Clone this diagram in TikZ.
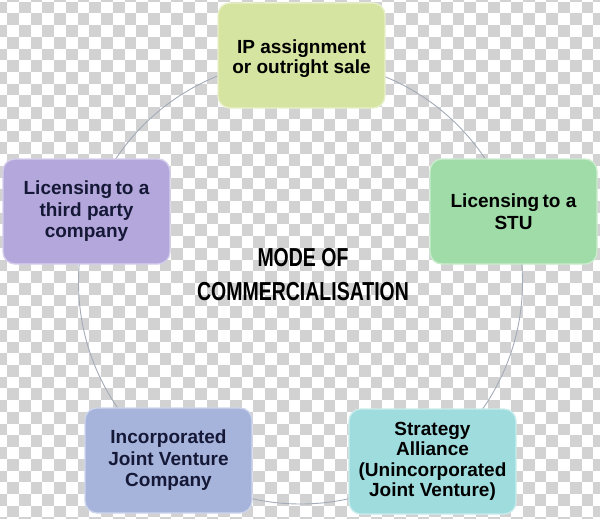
\documentclass[tikz,border=0pt]{standalone}
\usepackage{fontspec}
\setmainfont{Liberation Sans}
\definecolor{checker}{HTML}{D2D2D2}
\definecolor{ringc}{HTML}{A3ABB8}
\definecolor{cTop}{HTML}{D5E4A0}
\definecolor{cLeft}{HTML}{B4A7DC}
\definecolor{cRight}{HTML}{A0DCA8}
\definecolor{cBL}{HTML}{A6B4DC}
\definecolor{cBR}{HTML}{9EDCDE}
\definecolor{navy}{HTML}{151836}
\begin{document}
\begin{tikzpicture}[x=1pt,y=-1pt,
  box/.style={draw=#1!55!white, line width=1.3pt, fill=#1, rounded corners=12pt,
    minimum width=167pt, minimum height=105pt, inner sep=0pt, align=center,
    font=\fontsize{19}{21.5}\selectfont\bfseries},
  ring/.style={draw=ringc, line width=0.9pt},
  centertext/.style={align=center, font=\fontsize{26}{34}\selectfont\bfseries}
]
\useasboundingbox (0,0) rectangle (600,519);
\fill[white] (0,0) rectangle (600,519);
\begin{scope}
\clip (0,0) rectangle (600,519);
\foreach \i in {0,...,51} {
  \foreach \j in {0,...,45} {
    \pgfmathparse{int(mod(\i+\j,2))}
    \ifnum\pgfmathresult=1
      \fill[checker] ({-4.41+11.72*\i},{-10+11.72*\j}) rectangle ++(11.72,11.72);
    \fi
  }
}
\end{scope}
\coordinate (ctr) at (300.5,282);
\draw[ring] (ctr) circle[radius=222pt];
\node[box=cTop, text=black, text depth=0pt] (ip) at (301.5,55.5) {\raisebox{-3pt}{\shortstack{IP assignment\\[-1pt]or outright sale}}};
\node[box=cLeft, text=navy] (third) at (86.5,211.5) {Licensing\hspace{-2pt} to a\\third party\\company};
\node[box=cRight, text=black] (stu) at (513.5,211.5) {Licensing\hspace{-2pt} to a\\STU};
\node[box=cBL, text=navy] (ijv) at (168.5,460.5) {Incorporated\\Joint Venture\\Company};
\node[box=cBR, text=black, font=\fontsize{19}{20.5}\selectfont\bfseries] (sa) at (432.5,461.5) {Strategy\\Alliance\\(Unincorporated\\Joint Venture)};
\node[centertext] (mode) at (303,275) {\scalebox{0.75}[1]{MODE OF}\\\scalebox{0.75}[1]{COMMERCIALISATION}};
\end{tikzpicture}
\end{document}
